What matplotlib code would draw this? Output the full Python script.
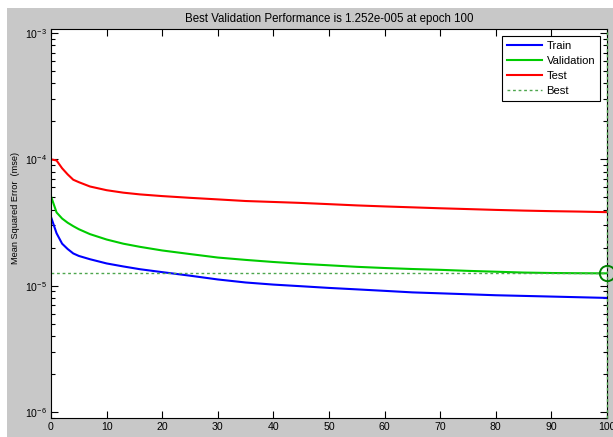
import numpy as np
import matplotlib
matplotlib.use("Agg")
import matplotlib.pyplot as plt
from matplotlib.patches import Rectangle

# training record (mse per epoch)
epochs = [0, 1, 2, 3, 4, 5, 7, 10, 13, 16, 20, 25, 30, 35, 40, 45, 50,
          55, 60, 65, 70, 75, 80, 85, 90, 95, 100]
train = [3.5e-5, 2.6e-5, 2.15e-5, 1.95e-5, 1.8e-5, 1.72e-5, 1.62e-5, 1.5e-5,
         1.42e-5, 1.35e-5, 1.28e-5, 1.2e-5, 1.12e-5, 1.06e-5, 1.02e-5, 9.9e-6,
         9.6e-6, 9.35e-6, 9.1e-6, 8.85e-6, 8.7e-6, 8.55e-6, 8.4e-6, 8.3e-6,
         8.2e-6, 8.1e-6, 8.0e-6]
validation = [5.1e-5, 3.8e-5, 3.4e-5, 3.15e-5, 2.96e-5, 2.8e-5, 2.56e-5,
              2.32e-5, 2.15e-5, 2.03e-5, 1.9e-5, 1.78e-5, 1.67e-5, 1.6e-5,
              1.54e-5, 1.49e-5, 1.45e-5, 1.41e-5, 1.38e-5, 1.355e-5, 1.335e-5,
              1.31e-5, 1.29e-5, 1.27e-5, 1.26e-5, 1.255e-5, 1.252e-5]
test = [1.0e-4, 9.8e-5, 8.5e-5, 7.6e-5, 6.9e-5, 6.6e-5, 6.1e-5, 5.7e-5,
        5.45e-5, 5.28e-5, 5.12e-5, 4.96e-5, 4.82e-5, 4.68e-5, 4.6e-5, 4.52e-5,
        4.42e-5, 4.32e-5, 4.24e-5, 4.17e-5, 4.1e-5, 4.04e-5, 3.98e-5, 3.93e-5,
        3.89e-5, 3.86e-5, 3.82e-5]
best_epoch = 100
best_perf = 1.252e-5

plt.rcParams['font.family'] = ['Liberation Sans', 'DejaVu Sans']
plt.rcParams['mathtext.default'] = 'regular'
plt.rcParams['font.size'] = 7.6

fig = plt.figure(figsize=(6.13, 4.37), dpi=100, facecolor='white')
# grey window background
fig.patches.append(Rectangle((7 / 613, 0), 1, (437 - 8) / 437,
                             transform=fig.transFigure, facecolor='#c8c8c8',
                             edgecolor='none', zorder=-10))

ax = fig.add_axes([51 / 613, 19 / 437, 556 / 613, 389 / 437])
ax.set_facecolor('white')

ax.plot(epochs, train, color=(0, 0, 1), lw=1.5, label='Train')
ax.plot(epochs, validation, color=(0, 0.8, 0), lw=1.5, label='Validation')
ax.plot(epochs, test, color=(1, 0, 0), lw=1.5, label='Test')
ax.axhline(best_perf, color=(0.3, 0.65, 0.3), lw=1, ls=(0, (2, 2)), label='Best')
ax.axvline(best_epoch, color=(0.3, 0.65, 0.3), lw=1, ls=(0, (2, 2)),
           clip_on=False, zorder=5)
ax.plot([best_epoch], [best_perf], 'o', ms=11, mfc='none',
        mec=(0, 0.5, 0), mew=1.4, clip_on=False, zorder=6)

ax.set_yscale('log')
ax.set_xlim(0, 100)
ax.set_ylim(10 ** -6.0475, 10 ** -2.968)
ax.set_xticks(np.arange(0, 101, 10))
ax.set_yticks([1e-6, 1e-5, 1e-4, 1e-3])
ax.set_yticklabels([r'$10^{-6}$', r'$10^{-5}$', r'$10^{-4}$', r'$10^{-3}$'])
ax.tick_params(which='both', direction='in', top=True, right=True)
ax.tick_params(which='major', length=5, width=0.8, pad=3, labelsize=7.6)
ax.tick_params(which='minor', length=3, width=0.8)
for s in ax.spines.values():
    s.set_linewidth(0.8)

ax.set_title('Best Validation Performance is 1.252e-005 at epoch 100',
             fontsize=8.3, pad=5)
ax.set_ylabel('Mean Squared Error  (mse)', fontsize=6.6)
ax.yaxis.set_label_coords(-0.056, 0.54)

leg = ax.legend(loc='upper right', fancybox=False, framealpha=1,
                edgecolor='black', fontsize=8.1, handlelength=3.1,
                labelspacing=0.45, borderaxespad=0.6, handletextpad=0.45,
                borderpad=0.45)
leg.get_frame().set_linewidth(0.8)

plt.savefig('out.png', dpi=100, facecolor=fig.get_facecolor())
